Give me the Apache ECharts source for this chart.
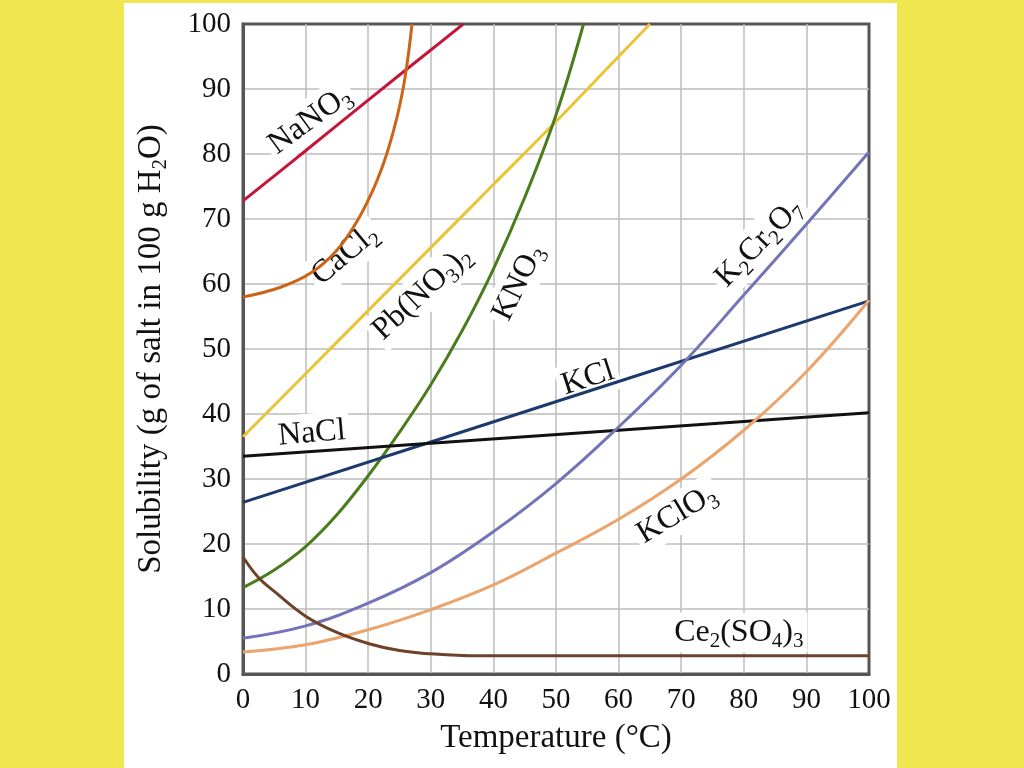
<!DOCTYPE html>
<html><head><meta charset="utf-8">
<script src="https://cdn.jsdelivr.net/npm/echarts@6/dist/echarts.min.js"></script>
<style>html,body{margin:0;padding:0;background:#efe650;}#c{width:1024px;height:768px;}</style>
</head><body><div id="c"></div>
<script>
// Solubility (g salt / 100 g H2O) vs temperature (°C)
const NaNO3   = [[0,72.8],[10,80.5],[20,88.3],[30,96],[35.2,100]];
const CaCl2   = [[0,58],[6,59.5],[11,61.8],[15,65.2],[18,69.3],[20.5,73.9],[22.5,78.7],[24,83.4],[25.2,88.2],[26.1,93.1],[27,100]];
const PbNO32  = [[0,36.5],[10,46.2],[20,55.9],[30,65.6],[40,75.3],[50,85],[60,95],[65,100]];
const KNO3    = [[0,13.3],[5,16],[10,19.6],[15,24.5],[20,30.5],[25,37.2],[30,44.5],[35,52.8],[40,62.3],[45,73.3],[50,86],[54.4,100]];
const KCl     = [[0,26.4],[30,35.7],[60,45],[100,57.4]];
const NaCl    = [[0,33.5],[60,37.5],[100,40.2]];
const K2Cr2O7 = [[0,5.5],[10,7.4],[20,10.9],[30,15.6],[40,21.9],[50,29.3],[60,38],[70,47.5],[80,58.3],[90,69.2],[100,80.3]];
const KClO3   = [[0,3.4],[10,4.5],[20,6.8],[30,9.9],[40,13.7],[50,18.6],[60,23.8],[70,30],[80,37.5],[90,46.5],[100,57.5]];
const Ce2SO43 = [[0,18],[2.5,14.8],[5,12.7],[10,8.9],[15,6.4],[20,4.7],[25,3.6],[30,3.1],[35,2.85],[40,2.8],[70,2.8],[100,2.8]];

const seriesNames = ['NaNO3','CaCl2','Pb(NO3)2','KNO3','KCl','NaCl','K2Cr2O7','KClO3','Ce2(SO4)3'];
const seriesData  = [NaNO3, CaCl2, PbNO32, KNO3, KCl, NaCl, K2Cr2O7, KClO3, Ce2SO43];
const seriesColors = ['#c5163a','#cc6418','#eac435','#4a7c1c','#1c3a6e','#111111','#7373b8','#eba46c','#6e4128'];

const xTickValues = [0,10,20,30,40,50,60,70,80,90,100];
const yTickValues = [0,10,20,30,40,50,60,70,80,90,100];

// curve labels: text, anchor (T, S) in data units, rotation in degrees
const labelText  = ['NaNO{s|3}','CaCl{s|2}','Pb(NO{s|3}){s|2}','KNO{s|3}','K{s|2}Cr{s|2}O{s|7}','KCl','NaCl','KClO{s|3}','Ce{s|2}(SO{s|4}){s|3}'];
const labelT     = [10.7, 16.3, 28.6, 44.0, 82.4, 55.1, 11.0, 69.3, 79.2];
const labelS     = [85.2, 64.5, 58.6, 60.2, 66.3, 45.5, 37.0, 24.6, 6.4];
const labelAngle = [36, 40, 43, 64, 46, 18, 5, 31, 0];

const FONT = 'Liberation Serif';
const chart = echarts.init(document.getElementById('c'), null, {renderer:'canvas'});

const subRich = { s: { fontSize: 21, lineHeight: 21, verticalAlign: 'bottom', fontFamily: FONT, color: '#111' } };
const axisSubRich = { s: { fontSize: 21, lineHeight: 21, verticalAlign: 'bottom', fontFamily: FONT, color: '#111' } };

const option = {
  animation: false,
  backgroundColor: '#efe650',
  grid: { left: 243, right: 155, top: 24, bottom: 94, show: true, backgroundColor: '#fff', borderColor: '#555', borderWidth: 3 },
  xAxis: {
    type: 'value', min: 0, max: 100, interval: 10,
    name: 'Temperature (°C)', nameLocation: 'middle', nameGap: 48,
    nameTextStyle: { fontSize: 33, fontFamily: FONT, color: '#111' },
    axisLine: { show: true, lineStyle: { color: '#555', width: 3 } },
    axisTick: { show: false },
    axisLabel: { fontSize: 29, fontFamily: FONT, color: '#111', margin: 12,
      formatter: v => xTickValues.includes(v) ? String(v) : '' },
    splitLine: { show: true, showMinLine: false, showMaxLine: false, lineStyle: { color: '#bdbdbd', width: 1.5 } }
  },
  yAxis: {
    type: 'value', min: 0, max: 100, interval: 10,
    name: 'Solubility (g of salt in 100 g H{s|2}O)', nameLocation: 'middle', nameGap: 72,
    nameTextStyle: { fontSize: 33, fontFamily: FONT, color: '#111', lineHeight: 40, rich: axisSubRich },
    axisLine: { show: true, lineStyle: { color: '#555', width: 3 } },
    axisTick: { show: false },
    axisLabel: { fontSize: 29, fontFamily: FONT, color: '#111', margin: 12,
      formatter: v => yTickValues.includes(v) ? String(v) : '' },
    splitLine: { show: true, showMinLine: false, showMaxLine: false, lineStyle: { color: '#bdbdbd', width: 1.5 } }
  },
  graphic: [
    { type: 'rect', z: -10, silent: true, shape: { x: 124, y: 3, width: 773, height: 765 }, style: { fill: '#fff' } }
  ],
  series: seriesNames.map((n, i) => ({
    name: n, type: 'line', data: seriesData[i], showSymbol: false, symbol: 'none',
    smooth: seriesData[i].length > 4 ? 0.4 : false,
    clip: true, z: 3,
    lineStyle: { color: seriesColors[i], width: 3 }
  }))
};
chart.setOption(option);

const labelGraphics = labelText.map((t, i) => {
  const p = chart.convertToPixel({ gridIndex: 0 }, [labelT[i], labelS[i]]);
  return {
    type: 'text', z: 1, silent: true,
    x: p[0], y: p[1], rotation: labelAngle[i] * Math.PI / 180,
    style: {
      text: t, fontSize: 32, fontFamily: FONT, fill: '#111',
      align: 'center', verticalAlign: 'middle', textAlign: 'center', textVerticalAlign: 'middle',
      lineHeight: 40, backgroundColor: '#fff', padding: [0, 4],
      rich: subRich
    }
  };
});
chart.setOption({ graphic: option.graphic.concat(labelGraphics) });
</script>
</body></html>
